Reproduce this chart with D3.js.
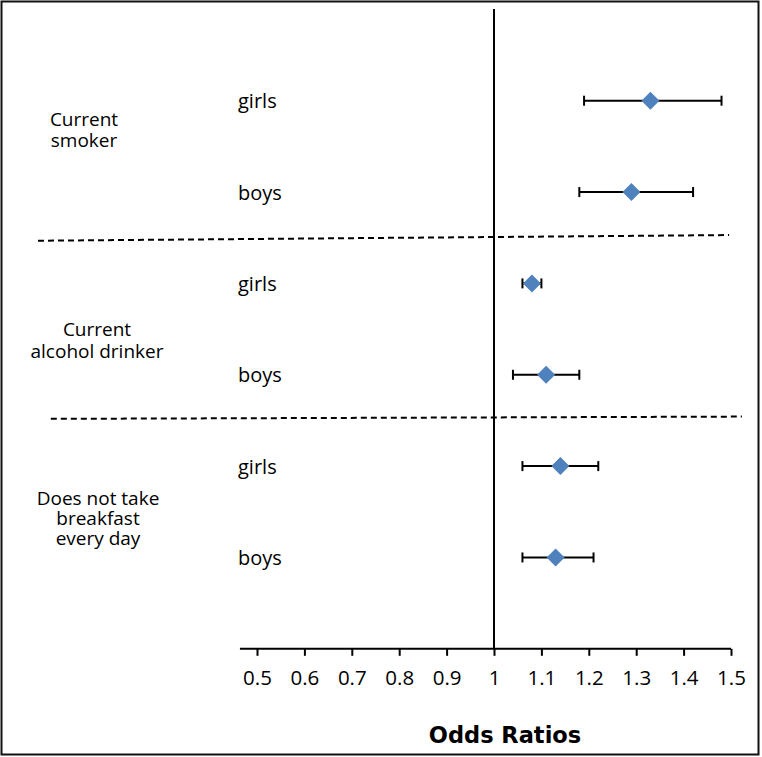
<!DOCTYPE html>
<html>
<head>
<meta charset="utf-8">
<script src="https://cdn.jsdelivr.net/npm/d3@7"></script>
<style>
  body { margin: 0; background: #fff; }
  svg { display: block; }
  text { font-family: "Open Sans", sans-serif; fill: #000; }
</style>
</head>
<body>
<svg id="chart" width="762" height="757"></svg>
<script>
// groups, rows and odds ratios
const groups = [
  ['Current', 'smoker'],
  ['Current', 'alcohol drinker'],
  ['Does not take', 'breakfast', 'every day']
];
const sexes = ['girls', 'boys'];
const oddsRatio = [1.33, 1.29, 1.08, 1.11, 1.14, 1.13];
const lower = [1.19, 1.18, 1.06, 1.04, 1.06, 1.06];
const upper = [1.48, 1.42, 1.10, 1.18, 1.22, 1.21];
const ticks = [0.5, 0.6, 0.7, 0.8, 0.9, 1, 1.1, 1.2, 1.3, 1.4, 1.5];

const rows = oddsRatio.map((v, i) => ({
  label: sexes[i % 2],
  or: v,
  lo: lower[i],
  hi: upper[i],
  row: i
}));

const svg = d3.select('#chart');

const x = d3.scaleLinear().domain([0.5, 1.5]).range([257, 731]);
const y = d3.scaleLinear().domain([0, 6]).range([100.7, 648.8]);

// outer frame
svg.append('rect')
    .attr('x', 1.5).attr('y', 1.5)
    .attr('width', 757).attr('height', 753)
    .attr('fill', 'none')
    .attr('stroke', '#111')
    .attr('stroke-width', 2);

// x axis
const axis = svg.append('g')
    .attr('transform', `translate(0 ${y(6)})`)
    .call(d3.axisBottom(x).tickValues(ticks).tickSize(7).tickPadding(15)
      .tickFormat(d => d3.format('')(d)));
axis.select('.domain')
    .attr('d', `M${x(0.464)},0H${x(1.5)}`)
    .attr('stroke', '#000')
    .attr('stroke-width', 2);
axis.selectAll('.tick line').attr('stroke', '#000').attr('stroke-width', 2);
axis.selectAll('.tick text')
    .style('font-family', '"Open Sans", sans-serif')
    .style('font-size', '20.5px')
    .attr('fill', '#000');

// reference line at 1
svg.append('line')
    .attr('x1', x(1)).attr('x2', x(1))
    .attr('y1', 9).attr('y2', y(6))
    .attr('stroke', '#000')
    .attr('stroke-width', 2);

// dashed group separators (slightly tilted like the original)
const seps = [
  { x0: 0.038, x1: 1.496, r0: 1.533, r1: 1.471 },
  { x0: 0.065, x1: 1.523, r0: 3.483, r1: 3.458 }
];
svg.selectAll('line.sep').data(seps).enter()
  .append('line')
    .classed('sep', true)
    .attr('x1', d => x(d.x0)).attr('x2', d => x(d.x1))
    .attr('y1', d => y(d.r0)).attr('y2', d => y(d.r1))
    .attr('stroke', '#000')
    .attr('stroke-width', 2)
    .attr('stroke-dasharray', '6,4');

// group labels
const groupX = [84, 97, 98];
const groupTop = [126, 336, 505];
const lineGap = [20.7, 22.3, 20];
svg.selectAll('text.group').data(groups).enter()
  .append('text')
    .classed('group', true)
    .attr('text-anchor', 'middle')
    .style('font-size', '19px')
    .each(function (d, i) {
      d3.select(this).selectAll('tspan').data(d).enter()
        .append('tspan')
          .attr('x', groupX[i])
          .attr('y', (t, j) => groupTop[i] + j * lineGap[i])
          .text(t => t);
    });

// sex labels
svg.selectAll('text.sex').data(rows).enter()
  .append('text')
    .classed('sex', true)
    .attr('x', 238)
    .attr('y', d => y(d.row) + 7.5)
    .style('font-size', '20px')
    .text(d => d.label);

// confidence intervals
const ci = svg.selectAll('g.ci').data(rows).enter()
  .append('g')
    .classed('ci', true)
    .attr('stroke', '#000')
    .attr('stroke-width', 2);

ci.append('line')
    .attr('x1', d => x(d.lo)).attr('x2', d => x(d.hi))
    .attr('y1', d => y(d.row)).attr('y2', d => y(d.row));
ci.append('line')
    .attr('x1', d => x(d.lo)).attr('x2', d => x(d.lo))
    .attr('y1', d => y(d.row) - 5).attr('y2', d => y(d.row) + 5);
ci.append('line')
    .attr('x1', d => x(d.hi)).attr('x2', d => x(d.hi))
    .attr('y1', d => y(d.row) - 5).attr('y2', d => y(d.row) + 5);

// point estimates
const s = 9;
svg.selectAll('path.point').data(rows).enter()
  .append('path')
    .classed('point', true)
    .attr('transform', d => `translate(${x(d.or)} ${y(d.row)})`)
    .attr('d', `M0,${-s}L${s},0L0,${s}L${-s},0Z`)
    .attr('fill', '#4F81BD');

// axis title
svg.append('text')
    .attr('x', 505)
    .attr('y', 743)
    .attr('text-anchor', 'middle')
    .style('font-family', '"DejaVu Sans", sans-serif')
    .style('font-weight', 'bold')
    .style('font-size', '22.5px')
    .text('Odds Ratios');
</script>
</body>
</html>
